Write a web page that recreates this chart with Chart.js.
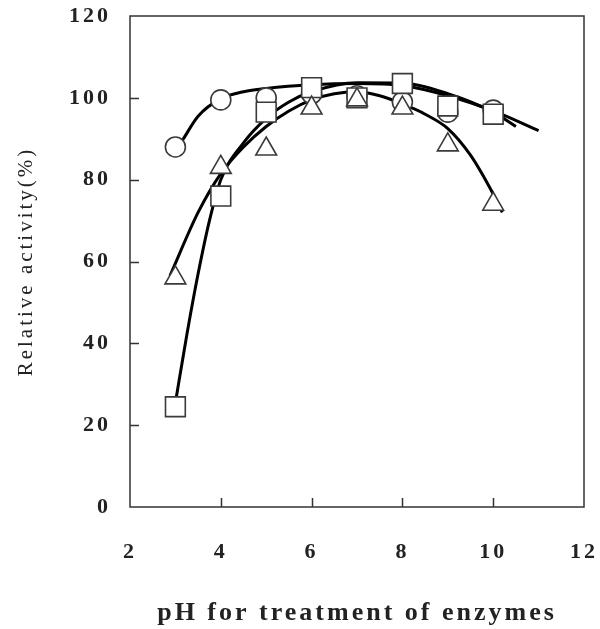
<!DOCTYPE html>
<html>
<head>
<meta charset="utf-8">
<script src="https://cdn.jsdelivr.net/npm/chart.js@4/dist/chart.umd.min.js"></script>
<style>
    html, body { margin: 0; padding: 0; background: #fff; }
    #wrap { width: 600px; height: 629px; }
</style>
</head>
<body>
<div id="wrap"><canvas id="phChart"></canvas></div>
<script>
// Measured points (pH vs relative activity %)
const phValues = [3, 4, 5, 6, 7, 8, 9, 10];
const circleValues = [88, 99.5, 100, 101, 100.5, 99, 96.5, 97];
const triangleValues = [56, 83, 87.5, 97.5, 99.5, 97.5, 88.5, 74];
const squareValues = [24.5, 76, 96.5, 102.5, 100, 103.5, 98, 96];

// Trend curves
const circleFitX = [3.16, 3.5, 4, 4.5, 5, 6, 7, 8, 9, 10, 11];
const circleFitY = [89.7, 95.5, 99.8, 101.5, 102.3, 103.2, 103.5, 103, 100.5, 96.8, 92];
const squareFitX = [3, 3.25, 3.5, 3.75, 4, 4.5, 5, 5.5, 6, 7, 8, 9, 10, 10.5];
const squareFitY = [25.5, 42, 57, 70, 80, 89, 95, 99, 101.5, 103.7, 103.6, 101, 96.5, 93];
const triangleFitX = [2.88, 3.5, 4, 4.5, 5, 5.5, 6, 6.5, 7, 7.5, 8, 8.5, 9, 9.5, 10, 10.2];
const triangleFitY = [56.5, 72, 81.5, 88, 93, 96.8, 99.5, 101, 101.5, 100.5, 98.5, 96, 92.5, 86, 76.5, 72];

// Axis ticks
const xTicks = [2, 4, 6, 8, 10, 12];
const yTicks = [0, 20, 40, 60, 80, 100, 120];

const toXY = (xs, ys) => xs.map((x, i) => ({ x: x, y: ys[i] }));

function markerSet(label, values, style, radius, order) {
    return {
        label: label,
        data: toXY(phValues, values),
        showLine: false,
        pointStyle: style,
        pointRadius: radius,
        pointBackgroundColor: '#fff',
        pointBorderColor: '#3a3a3a',
        pointBorderWidth: 1.6,
        order: order
    };
}

function curveSet(label, xs, ys, order) {
    return {
        label: label,
        data: toXY(xs, ys),
        showLine: true,
        borderColor: '#000',
        borderWidth: 3,
        pointRadius: 0,
        cubicInterpolationMode: 'monotone',
        fill: false,
        order: order
    };
}

// Inward ticks plus the frame round the plot
const frameAndTicks = {
    id: 'frameAndTicks',
    beforeDraw(chart) {
        // the original lettering is set wide
        chart.ctx.letterSpacing = '3px';
    },
    afterDatasetsDraw(chart) {
        const { ctx, chartArea: a, scales: { x, y } } = chart;
        ctx.save();
        ctx.strokeStyle = '#333';
        ctx.lineWidth = 1.5;
        ctx.strokeRect(a.left, a.top, a.right - a.left, a.bottom - a.top);
        ctx.beginPath();
        xTicks.slice(1, -1).forEach(v => {
            const px = Math.round(x.getPixelForValue(v)) + 0.5;
            ctx.moveTo(px, a.bottom);
            ctx.lineTo(px, a.bottom - 9);
        });
        yTicks.slice(1, -1).forEach(v => {
            const py = Math.round(y.getPixelForValue(v)) + 0.5;
            ctx.moveTo(a.left, py);
            ctx.lineTo(a.left + 9, py);
        });
        ctx.stroke();
        ctx.restore();
    },
    afterDraw(chart) {
        chart.ctx.letterSpacing = '0px';
    }
};

const serif = '"Liberation Serif", "Times New Roman", serif';
const tickFont = { family: serif, size: 22, weight: 'bold' };

new Chart(document.getElementById('phChart'), {
    type: 'scatter',
    data: {
        datasets: [
            markerSet('Triangle', triangleValues, 'triangle', 12, 1),
            markerSet('Square', squareValues, 'rect', 14, 2),
            markerSet('Circle', circleValues, 'circle', 10, 3),
            curveSet('Square fit', squareFitX, squareFitY, 4),
            curveSet('Triangle fit', triangleFitX, triangleFitY, 5),
            curveSet('Circle fit', circleFitX, circleFitY, 6)
        ]
    },
    options: {
        responsive: true,
        maintainAspectRatio: false,
        animation: false,
        layout: { padding: { top: 16, right: 16, left: 0, bottom: 0 } },
        plugins: {
            legend: { display: false },
            tooltip: { enabled: false }
        },
        scales: {
            x: {
                type: 'linear',
                min: 2,
                max: 12,
                afterBuildTicks: s => { s.ticks = xTicks.map(v => ({ value: v })); },
                afterFit: s => { s.height = 122; s.paddingLeft = 0; s.paddingRight = 0; },
                grid: { display: false, drawTicks: false },
                border: { display: false },
                ticks: { color: '#222', font: tickFont, padding: 32, maxRotation: 0 },
                title: {
                    display: true,
                    text: 'pH for treatment of enzymes',
                    color: '#222',
                    font: { family: serif, size: 26, weight: 'bold' },
                    padding: { top: 0, bottom: 0 }
                }
            },
            y: {
                min: 0,
                max: 120,
                afterBuildTicks: s => { s.ticks = yTicks.map(v => ({ value: v })); },
                afterFit: s => { s.width = 130; s.paddingTop = 0; s.paddingBottom = 0; },
                grid: { display: false, drawTicks: false },
                border: { display: false },
                ticks: { color: '#222', font: tickFont, padding: 19 },
                title: {
                    display: true,
                    text: 'Relative activity(%)',
                    color: '#222',
                    font: { family: serif, size: 21, weight: 'normal' },
                    padding: { top: 14, bottom: 0 }
                }
            }
        }
    },
    plugins: [frameAndTicks]
});
</script>
</body>
</html>
